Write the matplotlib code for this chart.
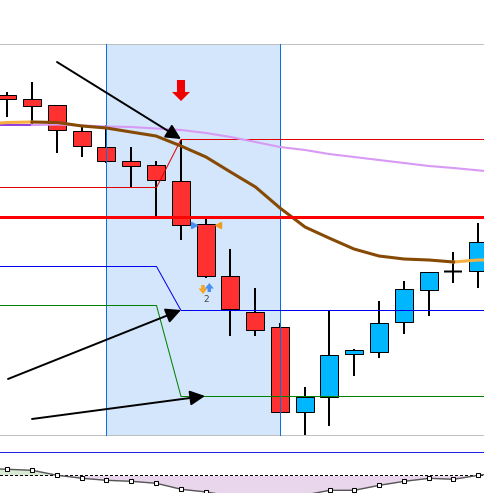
import matplotlib
matplotlib.use('Agg')
import matplotlib.pyplot as plt
from matplotlib.patches import Rectangle

# no snapping, coordinates below are already on the pixel grid
plt.rcParams['path.snap'] = False

# everything in pixels, so the axes just run in pixels
candle_x = [7, 32, 57, 82, 106, 131, 156, 181, 206, 230, 255, 280, 305, 329, 354, 379, 404, 429, 453, 478]
body_top = [95, 99, 105, 131, 147, 161, 165, 181, 224, 276, 312, 327, 397, 355, 350, 323, 289, 272, 271.5, 242]
body_bot = [99, 106, 130, 146, 161, 166, 180, 225, 276, 309, 330, 412, 412, 397, 354, 352, 322, 290, 271.5, 271]
wick_top = [92, 82, 105, 127, 125, 147, 161, 140, 218, 249, 288, 323, 387, 311, 349, 301, 281, 272, 252, 223]
wick_bot = [117, 126, 153, 157, 163, 187, 219, 240, 278, 336, 336, 412, 435, 426, 376, 358, 334, 316, 283, 288]
candle_col = ['#ff3030'] * 12 + ['#00b7ff'] * 8

brown_x = [32, 57.5, 82, 106.5, 131, 156, 181, 206, 230.5, 255.5, 280, 305, 329, 354, 379, 404, 429, 453.5]
brown_y = [122, 122.5, 126, 128, 132, 136, 146, 157, 172, 187, 208, 227, 238, 249, 256, 259, 260, 262]
orange_x = [0, 7, 32, 453.5, 478, 485]
orange_y = [123, 122.5, 122, 262, 260, 260]

lilac_x = [32, 57.5, 82, 106.5, 131, 156, 181, 206, 230.5, 255.5, 280, 305, 329, 354, 379, 404, 429, 453.5, 485]
lilac_y = [125, 124.5, 125.5, 126.5, 127, 128.5, 130, 133, 137, 142, 147, 150, 154, 157, 160, 163, 166, 168, 171]

osc_x = [7.5, 32.3, 57.3, 82.3, 106.3, 131.3, 156.3, 181.3, 206.3, 230.5, 255.5, 280, 305, 329.7, 354.3, 379.3, 404.3, 429.3, 453.3, 478.3]
osc_y = [469.3, 470.3, 475.3, 478.3, 480.3, 481.3, 483.3, 489.3, 492, 496, 498, 497, 495, 490.3, 490.3, 485.3, 481.3, 478.3, 479.3, 475.3]

fig = plt.figure(figsize=(4.85, 4.93), dpi=100)
ax = fig.add_axes([0, 0, 1, 1])
ax.set_xlim(0, 485)
ax.set_ylim(493, 0)
ax.axis('off')

# highlighted span
ax.add_patch(Rectangle((106.5, 44.5), 174, 391, fc='#d3e6fb', ec='none', zorder=1))
ax.plot([106.5, 106.5], [44.5, 435.5], color='#0a6fe0', lw=0.72, zorder=5)
ax.plot([280.5, 280.5], [44.5, 435.5], color='#0a6fe0', lw=0.72, zorder=5)

# pane borders
ax.plot([0, 485], [44.5, 44.5], color='#c0c0c0', lw=0.72, zorder=2)
ax.plot([0, 485], [435.5, 435.5], color='#c0c0c0', lw=0.72, zorder=2)

# levels
ax.plot([0, 156.5, 181, 485], [187.5, 187.5, 139.5, 139.5], color='#e00000', lw=0.72, zorder=6)
ax.plot([0, 156.5, 181, 485], [266.5, 266.5, 310.5, 310.5], color='#0000f0', lw=0.72, zorder=6)
ax.plot([0, 156.5, 181, 485], [305.5, 305.5, 396.5, 396.5], color='#008000', lw=0.72, zorder=6)

# candles
for x, t, b, wt, wb, c in zip(candle_x, body_top, body_bot, wick_top, wick_bot, candle_col):
    ax.plot([x, x], [wt, wb], color='black', lw=1.44, solid_capstyle='butt', zorder=3)
    if t == b:
        ax.plot([x - 9, x + 9], [t, t], color='black', lw=1.44, solid_capstyle='butt', zorder=3)
    else:
        ax.add_patch(Rectangle((x - 8.5, t + 0.5), 18, b - t, fc=c, ec='black', lw=0.72, zorder=4))

# moving averages
ax.plot([0, 32], [125, 125], color='#8a2be2', lw=1.3, zorder=6)
ax.plot(lilac_x, lilac_y, color='#d99af5', lw=1.5, zorder=6)
ax.plot(orange_x[:3], orange_y[:3], color='#f5b041', lw=2.2, zorder=7)
ax.plot(orange_x[3:], orange_y[3:], color='#f5b041', lw=2.2, zorder=7)
ax.plot(brown_x, brown_y, color='#864a04', lw=2.2, zorder=7)

# main level
ax.plot([0, 485], [217.5, 217.5], color='#ff0000', lw=2.16, zorder=8)

# black trend arrows
for start, end in [((57, 62), (181, 139)), ((8, 379), (181, 310)), ((32, 419), (205, 396))]:
    ax.annotate('', xy=end, xytext=start, zorder=9,
                arrowprops=dict(arrowstyle='-|>,head_length=0.9,head_width=0.45', color='black',
                                lw=1.4, shrinkA=0, shrinkB=0))

# red down arrow
ax.annotate('', xy=(181, 101), xytext=(181, 80), zorder=9,
            arrowprops=dict(width=5.8, headwidth=13, headlength=6.5, fc='#f00000', ec='#f00000', lw=0, shrink=0))

# little markers around the big candle
ax.plot([194.5], [224.5], marker='>', ms=5, color='#4a8ff0', zorder=9)
ax.plot([218.5], [224.5], marker='<', ms=5, color='#f09a20', zorder=9)
ax.annotate('', xy=(203, 294), xytext=(203, 285), zorder=9,
            arrowprops=dict(width=2.5, headwidth=6.5, headlength=4, fc='#f5a623', ec='none', shrink=0))
ax.annotate('', xy=(209.3, 283), xytext=(209.3, 292), zorder=9,
            arrowprops=dict(width=2.5, headwidth=6.5, headlength=4, fc='#4a8ff0', ec='none', shrink=0))
ax.text(206, 300, '2', fontsize=6.5, color='#444444', ha='center', va='center', zorder=9)

# lower pane
ax.plot([0, 485], [452.5, 452.5], color='#2020e0', lw=0.72, zorder=2)
fill_x = [0] + osc_x + [485]
fill_y = [469] + osc_y + [474.5]
ax.fill_between(fill_x, fill_y, 475.5, where=[y <= 475.5 for y in fill_y], interpolate=True,
                color='#d8ead4', lw=0, zorder=1)
ax.fill_between(fill_x, fill_y, 475.5, where=[y >= 475.5 for y in fill_y], interpolate=True,
                color='#ead6ec', lw=0, zorder=1)
ax.plot([0, 485], [475.5, 475.5], color='black', lw=0.72, ls=(0, (3, 2)), zorder=2)
ax.plot(fill_x, fill_y, color='#555555', lw=1, zorder=3)
ax.plot(osc_x, osc_y, ls='none', marker='s', ms=3.2, mfc='white', mec='black', mew=0.75, zorder=4)

fig.savefig('out.png', dpi=100)
